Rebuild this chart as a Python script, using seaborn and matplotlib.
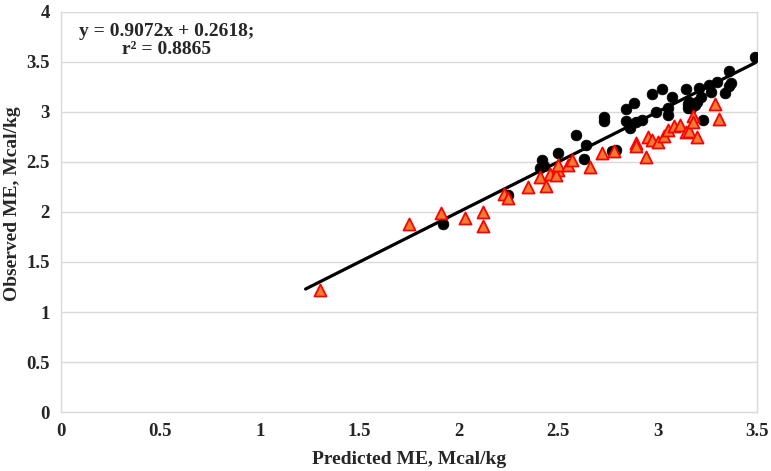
import pandas as pd
import numpy as np
import matplotlib
matplotlib.use('Agg')
import matplotlib.pyplot as plt
import seaborn as sns

# Black circles: predicted vs observed ME
circle_pred = [1.92, 2.25, 2.41, 2.42, 2.43, 2.50, 2.59, 2.64, 2.63, 2.77, 2.79,
               2.73, 2.73, 2.84, 2.84, 2.86, 2.88, 2.89, 2.92, 2.97, 2.99, 3.02,
               3.05, 3.05, 3.07, 3.14, 3.15, 3.16, 3.17, 3.19, 3.15, 3.20, 3.21,
               3.22, 3.23, 3.26, 3.27, 3.30, 3.34, 3.36, 3.37, 3.36, 3.49]
circle_obs = [1.88, 2.17, 2.44, 2.52, 2.46, 2.59, 2.77, 2.67, 2.53, 2.61, 2.62,
              2.95, 2.91, 3.03, 2.91, 2.84, 3.09, 2.90, 2.92, 3.18, 3.00, 3.23,
              3.04, 2.97, 3.15, 3.23, 3.08, 3.10, 3.04, 3.07, 3.04, 3.10, 3.24,
              3.15, 2.92, 3.27, 3.20, 3.30, 3.19, 3.26, 3.29, 3.41, 3.55]

# Orange triangles
tri_pred = [1.30, 1.75, 1.91, 2.03, 2.12, 2.12, 2.23, 2.25, 2.35, 2.41, 2.44,
            2.46, 2.50, 2.49, 2.50, 2.55, 2.57, 2.66, 2.72, 2.78, 2.89, 2.89,
            2.94, 2.95, 2.97, 3.00, 3.03, 3.05, 3.08, 3.11, 3.14, 3.16, 3.18,
            3.18, 3.20, 3.29, 3.31]
tri_obs = [1.22, 1.88, 1.99, 1.94, 2.00, 1.86, 2.18, 2.14, 2.25, 2.35, 2.26,
           2.38, 2.42, 2.37, 2.47, 2.47, 2.52, 2.45, 2.59, 2.61, 2.69, 2.66,
           2.55, 2.75, 2.72, 2.70, 2.76, 2.82, 2.86, 2.87, 2.80, 2.81, 2.96,
           2.90, 2.75, 3.08, 2.93]

# Fitted line end points
line_x = [1.23, 3.50]
line_y = [1.23, 3.50]

x_ticks = [0, 0.5, 1, 1.5, 2, 2.5, 3, 3.5]
y_ticks = [0, 0.5, 1, 1.5, 2, 2.5, 3, 3.5, 4]

sns.set_theme(style='white')
plt.rcParams['font.family'] = ['Liberation Serif', 'DejaVu Serif']
plt.rcParams['font.weight'] = 'bold'

fig = plt.figure(figsize=(7.71, 4.71), dpi=100)
ax = fig.add_axes([0.079, 0.125, 0.903, 0.85])

ax.set_axisbelow(True)
ax.yaxis.grid(True, color='#d9d9d9', linewidth=1)

sns.lineplot(x=line_x, y=line_y, ax=ax, color='black', linewidth=2.3, zorder=2)

circles = pd.DataFrame({'pred': circle_pred, 'obs': circle_obs})
sns.scatterplot(data=circles, x='pred', y='obs', ax=ax, marker='o', s=60,
                color='black', edgecolor='black', linewidth=0.5, zorder=3)

tris = pd.DataFrame({'pred': tri_pred, 'obs': tri_obs})
sns.scatterplot(data=tris, x='pred', y='obs', ax=ax, marker='^', s=75,
                color='#ed7d31', edgecolor='#ff0000', linewidth=1.3, zorder=4)

ax.set_xlim(0, 3.5)
ax.set_ylim(0, 4)
ax.set_xticks(x_ticks)
ax.set_yticks(y_ticks)
ax.set_xticklabels([f'{t:g}' for t in x_ticks], fontsize=13.5, fontweight='bold')
ax.set_yticklabels([f'{t:g}' for t in y_ticks], fontsize=13.5, fontweight='bold')
ax.tick_params(axis='both', length=0, pad=8)

for side in ['left', 'bottom', 'right']:
    ax.spines[side].set_color('#d9d9d9')
    ax.spines[side].set_linewidth(1)
ax.spines['top'].set_visible(False)

ax.set_xlabel('Predicted ME, Mcal/kg', fontsize=14, fontweight='bold', labelpad=8)
ax.set_ylabel('Observed ME, Mcal/kg', fontsize=14, fontweight='bold', labelpad=4)
ax.yaxis.set_label_coords(-0.058, 0.52)

ax.text(0.53, 3.71, 'y = 0.9072x + 0.2618;\nr\u00b2 = 0.8865', fontsize=14,
        fontweight='bold', ha='center', va='center', linespacing=1.05)

fig.savefig('out.png', dpi=100)
